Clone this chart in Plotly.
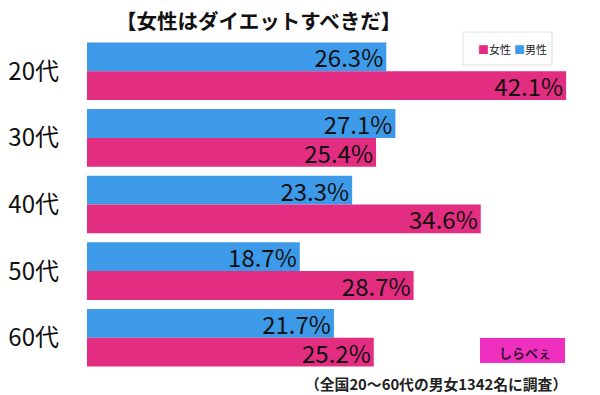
import plotly.graph_objects as go

categories = ["20代", "30代", "40代", "50代", "60代"]
male = [26.3, 27.1, 23.3, 18.7, 21.7]
female = [42.1, 25.4, 34.6, 28.7, 25.2]
title = "【女性はダイエットすべきだ】"
note = "（全国20～60代の男女1342名に調査）"

JP = "Noto Sans CJK JP"
BLUE = "#3d9ae8"
PINK = "#e22d80"

L, R, T, B = 87, 10, 38, 24
PW, PH = 600 - L - R, 395 - T - B


def px(x):
    return (x - L) / PW


def py(y):
    return (395 - B - y) / PH


fig = go.Figure()
fig.add_trace(go.Bar(
    y=categories, x=male, name="男性", orientation="h",
    marker=dict(color=BLUE, line=dict(width=0)),
    text=[f"{v:.1f}%" for v in male], textposition="inside",
    insidetextanchor="end", textangle=0,
    textfont=dict(family=JP, size=24, color="#111111"),
    constraintext="none",
))
fig.add_trace(go.Bar(
    y=categories, x=female, name="女性", orientation="h",
    marker=dict(color=PINK, line=dict(width=0)),
    text=[f"{v:.1f}%" for v in female], textposition="inside",
    insidetextanchor="end", textangle=0,
    textfont=dict(family=JP, size=24, color="#111111"),
    constraintext="none",
))

fig.update_layout(
    width=600, height=395,
    margin=dict(l=L, r=R, t=T, b=B, autoexpand=False),
    barmode="group", bargap=0.135, bargroupgap=0,
    plot_bgcolor="white", paper_bgcolor="white",
    font=dict(family=JP, color="#111111"),
    showlegend=False,
    xaxis=dict(range=[0, 44.2], visible=False, fixedrange=True, automargin=False),
    yaxis=dict(
        autorange="reversed", showgrid=False, showline=False, zeroline=False,
        ticks="", ticklabelstandoff=27, automargin=False, fixedrange=True,
        tickfont=dict(family=JP, size=24, color="#111111"),
    ),
    annotations=[
        dict(text=f"<b>{title}</b>", xref="paper", yref="paper",
             x=px(258), y=py(20), xanchor="center", yanchor="middle",
             showarrow=False, font=dict(family=JP, size=20.5, color="#111111")),
        dict(text=f"<b>{note}</b>", xref="paper", yref="paper",
             x=px(569), y=py(383), xanchor="right", yanchor="middle",
             showarrow=False, font=dict(family=JP, size=14.8, color="#222222")),
        dict(text="<b>しらべぇ</b>", xref="paper", yref="paper",
             x=px(525), y=py(352), xanchor="center", yanchor="middle",
             showarrow=False, font=dict(family=JP, size=13, color="#3a1030")),
        dict(text=f"<span style='color:{PINK}'>■</span>女性", xref="paper", yref="paper",
             x=px(476), y=py(48.5), xanchor="left", yanchor="middle",
             showarrow=False, font=dict(family=JP, size=11, color="#222222")),
        dict(text=f"<span style='color:{BLUE}'>■</span>男性", xref="paper", yref="paper",
             x=px(512), y=py(48.5), xanchor="left", yanchor="middle",
             showarrow=False, font=dict(family=JP, size=11, color="#222222")),
    ],
    shapes=[
        dict(type="rect", xref="paper", yref="paper",
             x0=px(463), x1=px(552), y0=py(65), y1=py(32),
             fillcolor="white", line=dict(width=1, color="#dddddd"), layer="above"),
        dict(type="rect", xref="paper", yref="paper",
             x0=px(480), x1=px(565), y0=py(363), y1=py(338),
             fillcolor="#ef2fc0", line=dict(width=0), layer="above"),
    ],
)

fig.write_html(
    "out.html",
    config={"displayModeBar": False},
    post_script="document.body.style.margin='0';document.body.style.padding='0';",
)
